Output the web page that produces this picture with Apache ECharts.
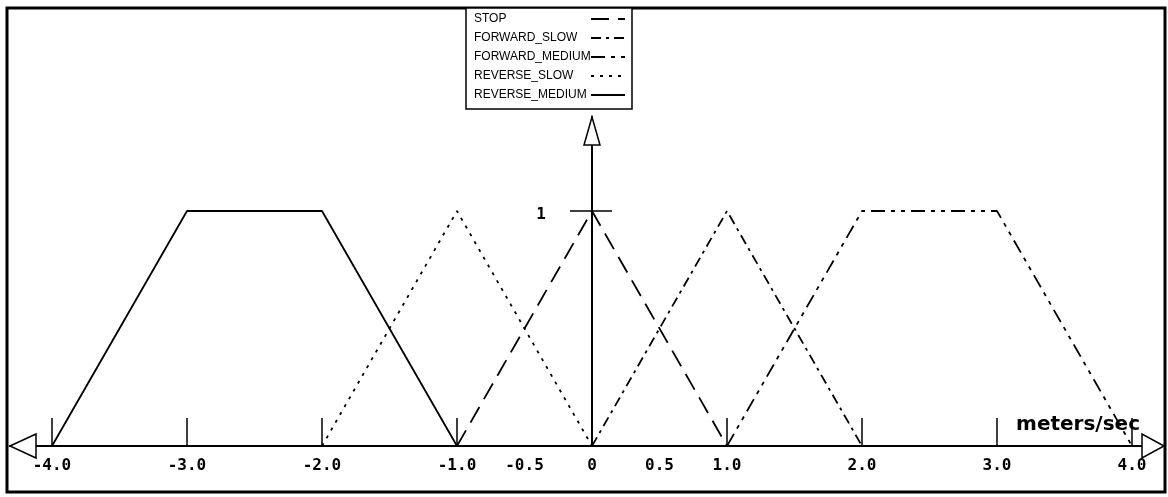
<!DOCTYPE html>
<html>
<head>
<meta charset="utf-8">
<script src="https://cdn.jsdelivr.net/npm/echarts@6/dist/echarts.min.js"></script>
<style>
  html, body { margin: 0; padding: 0; background: #fff; }
  #chart { width: 1168px; height: 497px; }
</style>
</head>
<body>
<div id="chart"></div>
<script>
// Membership functions of the speed variable (x in meters/sec, y = degree of membership)
const seriesNames = ['STOP', 'FORWARD_SLOW', 'FORWARD_MEDIUM', 'REVERSE_SLOW', 'REVERSE_MEDIUM'];
const stopPts = [[-1, 0], [0, 1], [1, 0]];
const forwardSlowPts = [[0, 0], [1, 1], [2, 0]];
const forwardMediumPts = [[1, 0], [2, 1], [3, 1], [4, 0]];
const reverseSlowPts = [[-2, 0], [-1, 1], [0, 0]];
const reverseMediumPts = [[-4, 0], [-3, 1], [-2, 1], [-1, 0]];

const xTickValues = [-4, -3, -2, -1, 0, 1, 2, 3, 4];
const xLabelValues = [-4, -3, -2, -1, -0.5, 0, 0.5, 1, 2, 3, 4];
const yLabelValues = [1];
const xUnit = 'meters/sec';

const X_MIN = -4.311, X_MAX = 4.237, Y_MIN = 0, Y_MAX = 1.4;

const dashStyles = {
  STOP: [18, 9],
  FORWARD_SLOW: [10, 5, 3, 5],
  FORWARD_MEDIUM: [14, 6, 4, 6, 4, 6],
  REVERSE_SLOW: [3, 6],
  REVERSE_MEDIUM: 'solid'
};
const seriesData = {
  STOP: stopPts,
  FORWARD_SLOW: forwardSlowPts,
  FORWARD_MEDIUM: forwardMediumPts,
  REVERSE_SLOW: reverseSlowPts,
  REVERSE_MEDIUM: reverseMediumPts
};

const chart = echarts.init(document.getElementById('chart'), null, { renderer: 'canvas' });

const labelFont = { fontFamily: 'DejaVu Sans Mono', fontWeight: 'bold', fontSize: 16, color: '#000' };

chart.setOption({
  animation: false,
  backgroundColor: '#fff',
  grid: { left: 10, top: 117, width: 1154, height: 329, containLabel: false, outerBoundsMode: 'none' },
  legend: {
    orient: 'vertical',
    left: 466,
    top: 8,
    align: 'right',
    itemWidth: 34,
    itemHeight: 10,
    itemGap: 7,
    padding: [5, 6, 8, 8],
    borderColor: '#000',
    borderWidth: 1.5,
    backgroundColor: '#fff',
    selectedMode: false,
    z: 10,
    data: seriesNames,
    itemStyle: { opacity: 0 },
    formatter: '{n|{name}}',
    textStyle: {
      fontFamily: 'Liberation Sans', fontSize: 12, color: '#000',
      rich: { n: { width: 112, align: 'left', fontFamily: 'Liberation Sans', fontSize: 12, color: '#000' } }
    }
  },
  xAxis: {
    type: 'value',
    min: X_MIN,
    max: X_MAX,
    name: xUnit,
    nameLocation: 'end',
    nameGap: -24,
    nameTextStyle: {
      fontFamily: 'DejaVu Sans', fontWeight: 'bold', fontSize: 20, color: '#000',
      align: 'right', verticalAlign: 'bottom', padding: [0, 0, 11, 0]
    },
    splitLine: { show: false },
    axisLine: { show: true, onZero: true, lineStyle: { color: '#000', width: 2 } },
    axisTick: { show: true, inside: true, length: 28, customValues: xTickValues, lineStyle: { color: '#000', width: 1.5 } },
    axisLabel: Object.assign({
      margin: 12,
      customValues: xLabelValues,
      formatter: v => (v === 0 ? '0' : v.toFixed(1))
    }, labelFont)
  },
  yAxis: {
    type: 'value',
    min: Y_MIN,
    max: Y_MAX,
    splitLine: { show: false },
    axisLine: { show: true, onZero: true, lineStyle: { color: '#000', width: 2 } },
    axisTick: { show: false },
    axisLabel: { show: false }
  },
  series: seriesNames.map(name => ({
    name: name,
    type: 'line',
    data: seriesData[name],
    symbol: 'none',
    silent: true,
    z: 3,
    lineStyle: { color: '#000', width: 1.8, type: dashStyles[name] },
    itemStyle: { color: '#000' }
  }))
});

// Frame, open arrowheads on the axes, and the tick + label at membership 1
const pL = chart.convertToPixel({ gridIndex: 0 }, [X_MIN, 0]);
const pR = chart.convertToPixel({ gridIndex: 0 }, [X_MAX, 0]);
const pT = chart.convertToPixel({ gridIndex: 0 }, [0, Y_MAX]);
const yMarks = yLabelValues.map(v => ({ v: v, p: chart.convertToPixel({ gridIndex: 0 }, [0, v]) }));

const arrowStyle = { fill: '#fff', stroke: '#000', lineWidth: 1.5 };
const graphics = [
  { type: 'rect', shape: { x: 7, y: 8, width: 1158, height: 484 }, style: { fill: 'none', stroke: '#000', lineWidth: 3 }, z: 1 },
  { type: 'polygon', shape: { points: [[pL[0], pL[1]], [pL[0] + 26, pL[1] - 12], [pL[0] + 26, pL[1] + 12]] }, style: arrowStyle, z: 20 },
  { type: 'polygon', shape: { points: [[pR[0], pR[1]], [pR[0] - 22, pR[1] - 12], [pR[0] - 22, pR[1] + 12]] }, style: arrowStyle, z: 20 },
  { type: 'polygon', shape: { points: [[pT[0], pT[1]], [pT[0] - 8, pT[1] + 28], [pT[0] + 8, pT[1] + 28]] }, style: arrowStyle, z: 20 }
];
yMarks.forEach(m => {
  graphics.push({ type: 'line', shape: { x1: m.p[0] - 22, y1: m.p[1], x2: m.p[0] + 20, y2: m.p[1] }, style: { stroke: '#000', lineWidth: 1.5 }, z: 20 });
  graphics.push({ type: 'text', x: m.p[0] - 51, y: m.p[1] + 4, style: { text: String(m.v), align: 'center', verticalAlign: 'middle', fill: '#000', font: 'bold 16px "DejaVu Sans Mono"' }, z: 20 });
});
chart.setOption({ graphic: graphics });
</script>
</body>
</html>
